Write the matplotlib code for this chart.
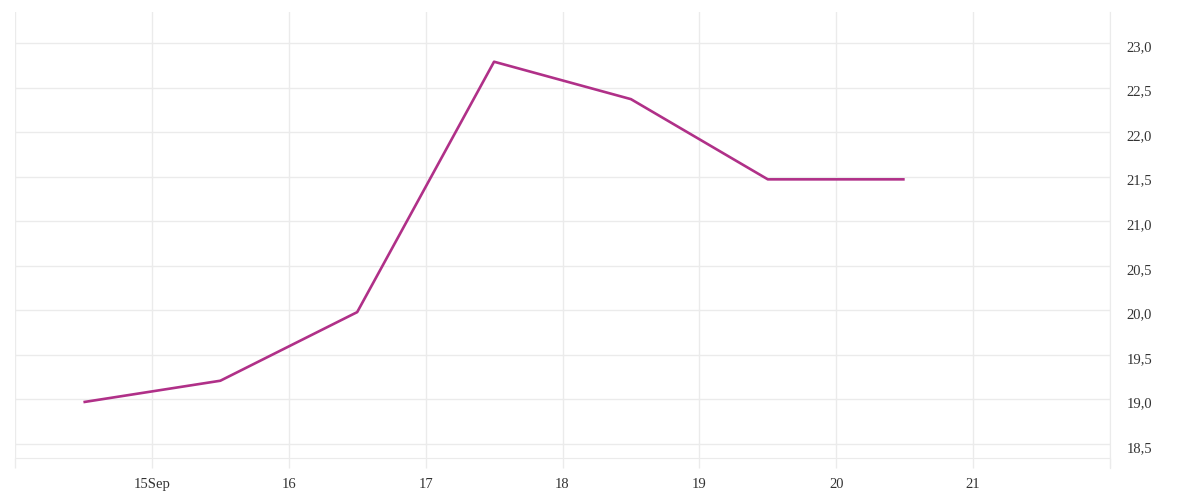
import matplotlib.pyplot as plt
import matplotlib.transforms as mtransforms
from matplotlib.ticker import FuncFormatter

# data: day of September (midday points) and value
days = [14.5, 15.5, 16.5, 17.5, 18.5, 19.5, 20.5]
values = [18.97, 19.21, 19.98, 22.79, 22.37, 21.47, 21.47]

x_ticks = [14, 15, 16, 17, 18, 19, 20, 21, 22]
x_labels = ["", "15Sep", "16", "17", "18", "19", "20", "21", ""]
y_ticks = [18.5, 19.0, 19.5, 20.0, 20.5, 21.0, 21.5, 22.0, 22.5, 23.0]

grid_col = "#ebebeb"
text_col = "#333333"

plt.rcParams["font.family"] = ["Liberation Serif", "DejaVu Serif"]

fig = plt.figure(figsize=(12, 5), dpi=100)
ax = fig.add_axes([0.0125, 0.084, 0.9125, 0.892])

ax.plot(days, values, color="#b03088", linewidth=1.9, solid_capstyle="butt", zorder=3)

ax.set_xlim(14, 22)
ax.set_ylim(18.343, 23.348)

ax.set_xticks(x_ticks)
ax.set_xticklabels(x_labels)
ax.set_yticks(y_ticks)
ax.yaxis.set_major_formatter(FuncFormatter(lambda v, p: f"{v:.1f}".replace(".", ",")))
ax.yaxis.tick_right()

ax.grid(True, color=grid_col, linewidth=1)
ax.set_axisbelow(True)

ax.tick_params(axis="x", length=7.5, width=1, color=grid_col, pad=7,
               labelsize=10.5, labelcolor=text_col)
ax.tick_params(axis="y", length=0, pad=12, labelsize=10.5, labelcolor=text_col)

# nudge y labels a few pixels down
shift = mtransforms.ScaledTranslation(0, -3 / 100, fig.dpi_scale_trans)
for lab in ax.get_yticklabels():
    lab.set_transform(lab.get_transform() + shift)

for side in ["top", "left"]:
    ax.spines[side].set_visible(False)
ax.spines["bottom"].set_color(grid_col)
ax.spines["right"].set_color(grid_col)
ax.spines["right"].set_bounds(18.343 - 0.11, 23.348)

plt.savefig("out.png", dpi=100)
